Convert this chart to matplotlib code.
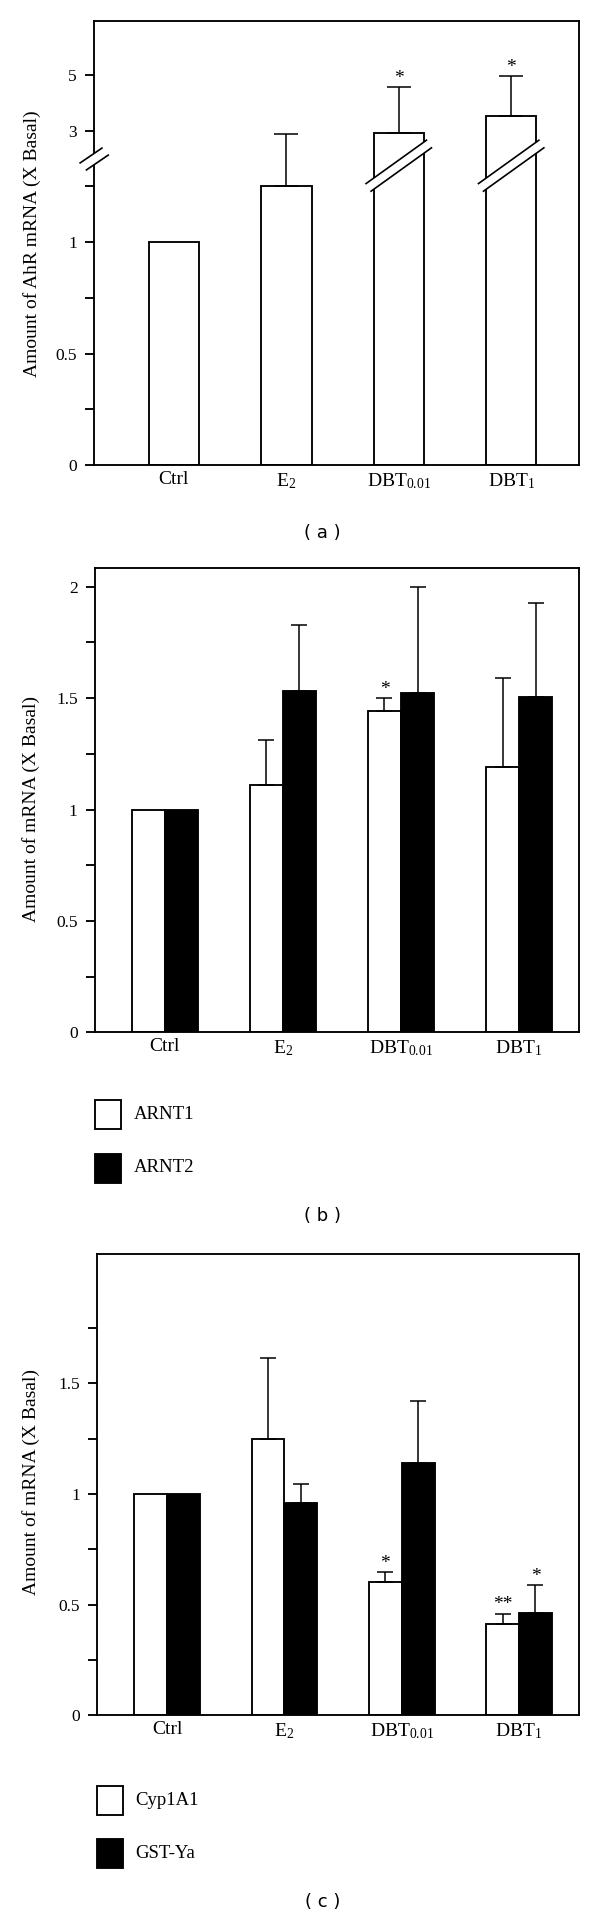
import numpy as np
import matplotlib
matplotlib.use("Agg")
import matplotlib.pyplot as plt
from matplotlib.patches import Polygon, Rectangle
from matplotlib.lines import Line2D
from matplotlib.transforms import IdentityTransform
from matplotlib.ticker import NullLocator

plt.rcParams['font.family'] = ['Liberation Serif', 'DejaVu Serif']
plt.rcParams['mathtext.fontset'] = 'custom'
plt.rcParams['mathtext.rm'] = 'Liberation Serif'
plt.rcParams['mathtext.it'] = 'Liberation Serif:italic'
plt.rcParams['mathtext.bf'] = 'Liberation Serif:bold'

# ---------------- data ----------------
categories = ['Ctrl', 'E$_2$', 'DBT$_{0.01}$', 'DBT$_1$']

# (a) AhR mRNA
ahr_mean = [1.0, 1.25, 2.91, 3.54]
ahr_err = [0.0, 1.65, 1.65, 1.41]
ahr_sig = ['', '', '*', '*']

# (b) ARNT1 / ARNT2
arnt1_mean = [1.0, 1.11, 1.44, 1.19]
arnt1_err = [0.0, 0.20, 0.06, 0.40]
arnt1_sig = ['', '', '*', '']
arnt2_mean = [1.0, 1.53, 1.525, 1.505]
arnt2_err = [0.0, 0.30, 0.475, 0.42]
arnt2_sig = ['', '', '', '']

# (c) Cyp1A1 / GST-Ya
cyp_mean = [1.0, 1.25, 0.60, 0.414]
cyp_err = [0.0, 0.363, 0.047, 0.045]
cyp_sig = ['', '', '*', '**']
gst_mean = [1.0, 0.957, 1.14, 0.46]
gst_err = [0.0, 0.09, 0.28, 0.127]
gst_sig = ['', '', '', '*']

a_yticks = [0, 0.25, 0.5, 0.75, 1, 1.25, 3, 5]
a_yticklabels = ['0', '', '0.5', '', '1', '', '3', '5']
b_yticks = [0, 0.25, 0.5, 0.75, 1, 1.25, 1.5, 1.75, 2]
b_yticklabels = ['0', '', '0.5', '', '1', '', '1.5', '', '2']
c_yticks = [0, 0.25, 0.5, 0.75, 1, 1.25, 1.5, 1.75]
c_yticklabels = ['0', '', '0.5', '', '1', '', '1.5', '']

# ---------------- layout ----------------
W, H = 600, 1918
DPI = 100
fig = plt.figure(figsize=(W / DPI, H / DPI), dpi=DPI)
fig.patch.set_facecolor('white')


def fx(x):
    return x / W


def fy(y):
    return 1 - y / H


def add_axes_px(left, right, top, bottom):
    return fig.add_axes([fx(left), fy(bottom), (right - left) / W, (bottom - top) / H])


LW = 1.35
ELW = 1.1


def style_axes(ax, yticks, yticklabels):
    for s in ax.spines.values():
        s.set_linewidth(LW)
    ax.set_yticks(yticks)
    ax.set_yticklabels(yticklabels)
    ax.yaxis.set_minor_locator(NullLocator())
    ax.tick_params(axis='y', direction='out', length=6.5, width=LW, pad=6.0, labelsize=12.5)
    ax.set_xticks(range(len(categories)))
    ax.set_xticklabels(categories)
    ax.tick_params(axis='x', length=0, pad=4.0, labelsize=14)


def add_sig(ax, xs, tops, sigs):
    for x, t, s in zip(xs, tops, sigs):
        if s:
            ax.annotate(s, xy=(x, t), xytext=(0, 6.5), textcoords='offset points',
                        ha='center', va='center', fontsize=14, annotation_clip=False)


def draw_err(ax, xs, means, errs, capsize):
    xs = np.asarray(xs, float)
    means = np.asarray(means, float)
    errs = np.asarray(errs, float)
    m = errs > 0
    ax.errorbar(xs[m], means[m], yerr=[np.zeros(m.sum()), errs[m]], fmt='none',
                ecolor='black', elinewidth=ELW, capsize=capsize, capthick=ELW, zorder=3)


# ---------------- panel (a) ----------------
L, U, K, EPS = 1.37, 1.99, 0.1252, 1e-4


def fwd(v):
    v = np.asarray(v, float)
    return np.where(v <= L, v,
                    np.where(v < U, L + (v - L) / (U - L) * EPS, L + EPS + (v - U) * K))


def inv(f):
    f = np.asarray(f, float)
    return np.where(f <= L, f,
                    np.where(f < L + EPS, L + (f - L) / EPS * (U - L), U + (f - L - EPS) / K))


axa = add_axes_px(94.2, 579.3, 20.7, 465.3)
axa.set_yscale('function', functions=(fwd, inv))
xa = np.arange(len(categories))
wa = 0.448
axa.bar(xa, ahr_mean, width=wa, color='white', edgecolor='black', linewidth=LW, zorder=2)
axa.set_xlim(-0.709, 3.606)
axa.set_ylim(0, 6.93)
style_axes(axa, a_yticks, a_yticklabels)
draw_err(axa, xa, ahr_mean, ahr_err, capsize=8.6)
add_sig(axa, xa, np.array(ahr_mean) + np.array(ahr_err), ahr_sig)


def break_mark(ax, xc, yv, half, slope, off, xdisp=None):
    cx, cy = ax.transData.transform((xc, yv))
    if xdisp is not None:
        cx = xdisp
    dx, dy = half, half * slope
    ux, uy = cx - off[0], cy + off[1]
    lx, ly = cx + off[0], cy - off[1]
    up = [(ux - dx, uy - dy), (ux + dx, uy + dy)]
    lo = [(lx - dx, ly - dy), (lx + dx, ly + dy)]
    poly = Polygon([up[0], up[1], lo[1], lo[0]], closed=True, facecolor='white',
                   edgecolor='none', transform=IdentityTransform(), zorder=5, clip_on=False)
    ax.add_artist(poly)
    for seg in (up, lo):
        xs_, ys_ = zip(*seg)
        ax.add_artist(Line2D(xs_, ys_, transform=IdentityTransform(), color='black',
                             lw=ELW + 0.1, zorder=6, clip_on=False))


# breaks on bars crossing the scale break
for x, v in zip(xa, ahr_mean):
    if v > U:
        break_mark(axa, x, 1.34, half=30.2, slope=0.718, off=(2.5, 3.8))
# break on the y axis
spine_x = axa.transAxes.transform((0, 0))[0]
break_mark(axa, 0, L, half=10.9, slope=0.68, off=(3.15, 3.5), xdisp=spine_x)

fig.text(fx(32.5), fy(243.5), 'Amount of AhR mRNA (X Basal)', rotation=90,
         ha='center', va='center', fontsize=14)
fig.text(fx(322.5), fy(532.5), '( a )', ha='center', va='center', fontsize=13,
         family='DejaVu Sans')

# ---------------- panel (b) ----------------
axb = add_axes_px(95.0, 579.0, 567.8, 1032.3)
xb = np.arange(len(categories))
wb = 0.28
axb.bar(xb - wb / 2, arnt1_mean, width=wb, color='white', edgecolor='black', linewidth=LW, zorder=2)
axb.bar(xb + wb / 2, arnt2_mean, width=wb, color='black', edgecolor='black', linewidth=LW, zorder=2)
axb.set_xlim(-0.592, 3.508)
axb.set_ylim(0, 2.085)
style_axes(axb, b_yticks, b_yticklabels)
draw_err(axb, xb - wb / 2, arnt1_mean, arnt1_err, capsize=5.8)
draw_err(axb, xb + wb / 2, arnt2_mean, arnt2_err, capsize=5.8)
add_sig(axb, xb - wb / 2, np.array(arnt1_mean) + np.array(arnt1_err), arnt1_sig)
add_sig(axb, xb + wb / 2, np.array(arnt2_mean) + np.array(arnt2_err), arnt2_sig)

fig.text(fx(30.8), fy(809), 'Amount of mRNA (X Basal)', rotation=90,
         ha='center', va='center', fontsize=14)


def legend_px(x0, y_tops, labels, colors, text_x):
    for yt, lab, col in zip(y_tops, labels, colors):
        fig.add_artist(Rectangle((fx(x0), fy(yt + 29)), 26.3 / W, 29 / H, transform=fig.transFigure,
                                 facecolor=col, edgecolor='black', linewidth=LW))
        fig.text(fx(text_x), fy(yt + 14.5), lab, ha='left', va='center', fontsize=13.5)


legend_px(94.7, [1100, 1153.5], ['ARNT1', 'ARNT2'], ['white', 'black'], 134)
fig.text(fx(322.5), fy(1215.7), '( b )', ha='center', va='center', fontsize=13,
         family='DejaVu Sans')

# ---------------- panel (c) ----------------
axc = add_axes_px(97.3, 579.0, 1253.8, 1715.3)
xc = np.arange(len(categories))
wc = 0.28
axc.bar(xc - wc / 2, cyp_mean, width=wc, color='white', edgecolor='black', linewidth=LW, zorder=2)
axc.bar(xc + wc / 2, gst_mean, width=wc, color='black', edgecolor='black', linewidth=LW, zorder=2)
axc.set_xlim(-0.596, 3.511)
axc.set_ylim(0, 2.085)
style_axes(axc, c_yticks, c_yticklabels)
draw_err(axc, xc - wc / 2, cyp_mean, cyp_err, capsize=5.8)
draw_err(axc, xc + wc / 2, gst_mean, gst_err, capsize=5.8)
add_sig(axc, xc - wc / 2, np.array(cyp_mean) + np.array(cyp_err), cyp_sig)
add_sig(axc, xc + wc / 2, np.array(gst_mean) + np.array(gst_err), gst_sig)

fig.text(fx(31.4), fy(1482), 'Amount of mRNA (X Basal)', rotation=90,
         ha='center', va='center', fontsize=14)
legend_px(97.0, [1786, 1839], ['Cyp1A1', 'GST-Ya'], ['white', 'black'], 135)
fig.text(fx(322.5), fy(1901.7), '( c )', ha='center', va='center', fontsize=13,
         family='DejaVu Sans')

fig.savefig('out.png', dpi=DPI, facecolor='white')
